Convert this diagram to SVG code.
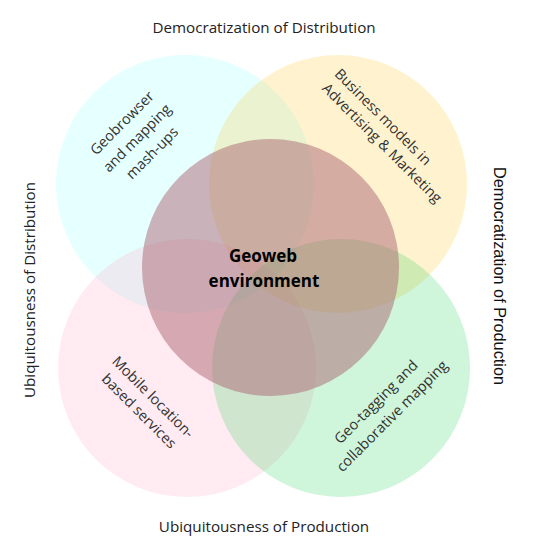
<svg xmlns="http://www.w3.org/2000/svg" width="538" height="547" viewBox="0 0 538 547">
<style>
.lbl{font-family:"Open Sans","Noto Sans",sans-serif;font-size:15.2px;fill:#222;text-anchor:middle}
.arial{font-family:"Liberation Sans",Arial,sans-serif;font-size:16.3px;fill:#111;text-anchor:middle}
.in{font-family:"Open Sans","Noto Sans",sans-serif;font-size:14.5px;fill:#333;text-anchor:middle}
.ctr{font-family:"Open Sans","Noto Sans",sans-serif;font-size:17px;font-weight:bold;fill:#000;text-anchor:middle}
</style>
<rect width="538" height="547" fill="#fff"/>
<g id="cyan"><circle cx="185" cy="184" r="129" fill="#80FFFF" fill-opacity="0.2"/>
<g transform="translate(122,123) rotate(-45)"><text class="in" x="0" y="5">Geobrowser</text></g>
<g transform="translate(137,138) rotate(-45)"><text class="in" x="0" y="5">and mapping</text></g>
<g transform="translate(152,153) rotate(-45)"><text class="in" x="0" y="5">mash-ups</text></g>
</g>
<g id="yellow"><circle cx="338" cy="184" r="129" fill="#FFBE0F" fill-opacity="0.2"/>
<g transform="translate(383,117) rotate(45)"><text class="in" x="0" y="5">Business models in</text></g>
<g transform="translate(382,143) rotate(45)"><text class="in" x="0" y="5">Advertising &amp; Marketing</text></g>
</g>
<g id="pink"><circle cx="187" cy="368" r="129" fill="#FF9BB9" fill-opacity="0.2"/>
<g transform="translate(153,397) rotate(45)"><text class="in" x="0" y="5">Mobile location-</text></g>
<g transform="translate(139,411) rotate(45)"><text class="in" x="0" y="5">based services</text></g>
</g>
<g id="green"><circle cx="341" cy="368" r="129" fill="#0FCD46" fill-opacity="0.2"/>
<g transform="translate(376,402) rotate(-45)"><text class="in" x="0" y="5">Geo-tagging and</text></g>
<g transform="translate(392,416) rotate(-45)"><text class="in" x="0" y="5">collaborative mapping</text></g>
</g>
<g id="center"><circle cx="270.5" cy="267.5" r="128.5" fill="#AC6573" fill-opacity="0.5"/>
<text class="ctr" x="263" y="262">Geoweb</text>
<text class="ctr" x="264" y="287">environment</text>
</g>
<g id="connectors"></g>
<text class="lbl" x="264" y="33">Democratization of Distribution</text>
<text class="lbl" x="264" y="532">Ubiquitousness of Production</text>
<text class="lbl" transform="translate(35,290) rotate(-90)">Ubiquitousness of Distribution</text>
<text class="arial" transform="translate(494,276) rotate(90)">Democratization of Production</text>
</svg>
